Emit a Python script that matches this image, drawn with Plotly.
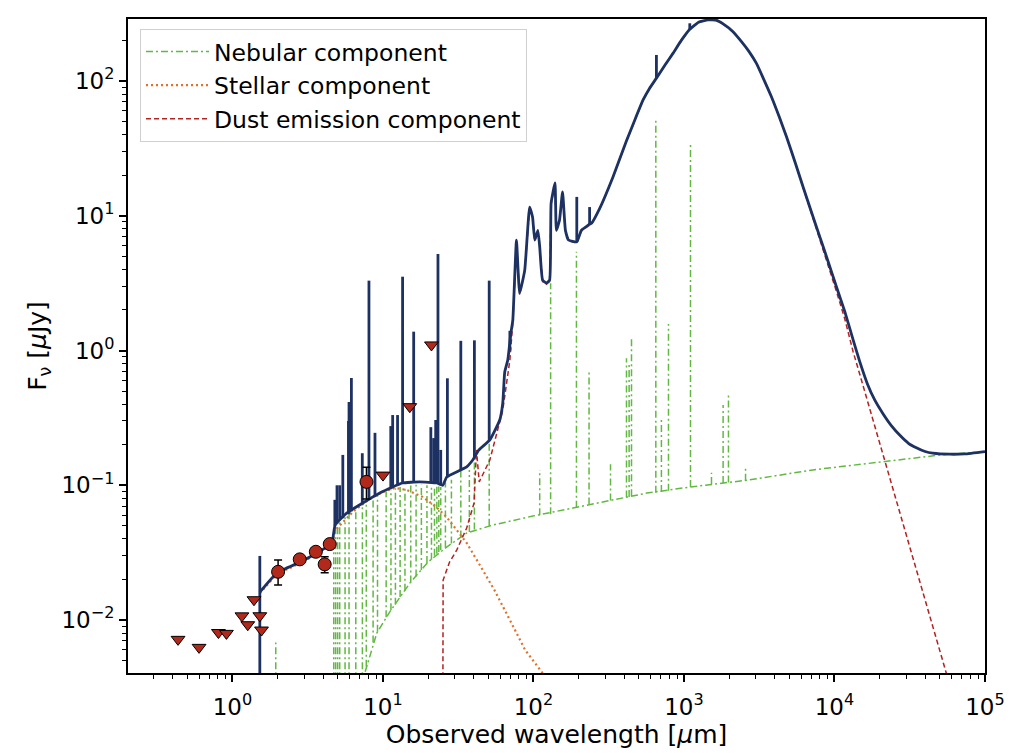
import plotly.graph_objects as go

# ---------------- data ----------------
# Total model continuum (wavelength in micron, flux in microJy)
total_wl = [1.52, 1.97, 2.81, 3.64, 4.57, 4.81, 5.74, 7.34, 9.52, 11.6, 13.5, 17.5, 22.8, 25.0,
            26.5, 36.0, 39.5, 43.4, 51.3, 59.7, 62.5, 64.4, 67.5, 70.8, 72.9, 77.1, 80.9, 87.5,
            94.3, 98.6, 102, 107, 110, 115, 122, 128, 131, 139, 142, 149, 156, 163, 171, 194,
            208, 224, 233, 243, 276, 338, 415, 470, 535, 590, 656, 750, 847, 960, 1093, 1250,
            1446, 1650, 1820, 2100, 2410, 2700, 3030, 3400, 3810, 4300, 4800, 5500, 6180, 7000,
            7980, 9000, 10300, 11700, 13300, 14700, 16500, 18500, 21000, 24000, 27200, 31000,
            35000, 40000, 45000, 58400, 73400, 100000]
total_flux = [0.0161, 0.0223, 0.0269, 0.0314, 0.0373, 0.0507, 0.0622, 0.0738, 0.0875, 0.097,
              0.104, 0.106, 0.104, 0.100, 0.115, 0.137, 0.154, 0.183, 0.217, 0.305, 0.407,
              0.69, 0.85, 1.35, 1.68, 6.6, 2.67, 3.95, 11.6, 9.8, 6.6, 7.8, 5.9, 3.33, 3.17,
              3.33, 12.4, 17.5, 7.8, 9.3, 15.0, 7.8, 6.6, 6.4, 7.8, 8.3, 8.6, 8.8, 11.4, 19.5,
              36.0, 51.0, 72.3, 88.0, 105, 132, 161, 200, 242, 273, 284, 282, 265, 234, 196,
              166, 135, 102, 76.4, 54.0, 38.6, 24.5, 16.4, 10.8, 7.0, 4.7, 2.97, 1.95, 1.20,
              0.83, 0.57, 0.43, 0.34, 0.275, 0.235, 0.205, 0.190, 0.178, 0.173, 0.170, 0.171,
              0.178]
# Emission-line spikes of the total model
total_line_wl = [1.52, 4.79, 4.95, 5.16, 5.41, 5.90, 5.95, 6.17, 7.29, 8.07, 8.85, 11.27, 11.6,
                 12.5, 13.5, 16.0, 20.8, 21.7, 22.4, 23.2, 24.2, 26.8, 32.9, 40.5, 50.8, 69.7,
                 194, 236, 656, 1093]
total_line_base = [0.002, 0.050, 0.052, 0.055, 0.057, 0.061, 0.062, 0.064, 0.073, 0.080, 0.083,
                   0.095, 0.097, 0.100, 0.104, 0.106, 0.105, 0.104, 0.104, 0.104, 0.100, 0.115,
                   0.130, 0.160, 0.215, 1.0, 6.4, 8.6, 105, 242]
total_line_peak = [0.0299, 0.078, 0.100, 0.100, 0.168, 0.30, 0.415, 0.625, 0.173, 3.30, 0.245,
                   0.275, 0.332, 0.332, 3.53, 1.38, 0.27, 0.224, 0.305, 5.2, 0.183, 0.622, 1.18,
                   1.19, 3.30, 1.40, 13.8, 11.6, 156, 268]

# Stellar component
stellar_wl = [1.52, 1.97, 2.81, 3.64, 4.57, 4.81, 6.3, 8.15, 9.95, 12.0, 14.4, 18.4, 22.6, 26.5,
              30.9, 36.0, 44.0, 55.0, 69.7, 88.0, 122.0]
stellar_flux = [0.0158, 0.0219, 0.0264, 0.0308, 0.0360, 0.0463, 0.0634, 0.079, 0.089, 0.0955,
                0.0923, 0.0819, 0.069, 0.058, 0.0466, 0.0373, 0.0256, 0.0167, 0.0100, 0.0060,
                0.0037]

# Dust emission component
dust_wl = [25.0, 25.1, 27.7, 30.9, 36.0, 40.3, 41.8, 43.6, 51.3, 62.5, 69.7, 72.9, 77.1, 80.9,
           87.5, 94.3, 98.6, 102, 107, 110, 115, 122, 128, 131, 139, 142, 149, 156, 163, 171,
           194, 208, 224, 243, 276, 338, 415, 470, 535, 590, 656, 750, 847, 960, 1093, 1250,
           1446, 1650, 1820, 2100, 2410, 2700, 3030, 3400, 3810, 4300, 4800, 5500, 6180, 7000,
           7980, 9000, 10300, 11700, 13300, 15100, 28900, 54800, 62000]
dust_flux = [0.0025, 0.0198, 0.0269, 0.033, 0.0482, 0.0738, 0.183, 0.106, 0.154, 0.361, 0.85,
             1.6, 6.5, 2.6, 3.9, 11.5, 9.7, 6.5, 7.7, 5.8, 3.25, 3.1, 3.25, 12.2, 17.3, 7.7,
             9.2, 14.8, 7.7, 6.5, 6.3, 7.7, 8.2, 8.7, 11.3, 19.4, 35.9, 50.9, 72.2, 87.9, 104.9,
             131.9, 160.9, 199.9, 241.9, 272.9, 283.9, 281.9, 264.9, 233.9, 195.9, 165.9, 134.9,
             101.9, 76.3, 53.9, 38.5, 24.4, 16.3, 10.7, 6.85, 4.55, 2.75, 1.72, 0.98, 0.604,
             0.0493, 0.00426, 0.0026]

# Nebular component: continuum and emission lines
nebular_wl = [7.0, 7.34, 9.1, 11.1, 15.1, 19.9, 26.5, 36.1, 53.7, 99, 183, 337, 566, 1094, 2620,
              7180, 20000, 55800, 100000]
nebular_flux = [0.0025, 0.0036, 0.0080, 0.0115, 0.0188, 0.0269, 0.0348, 0.0443, 0.0507, 0.0591,
                0.0678, 0.0778, 0.0875, 0.097, 0.109, 0.130, 0.149, 0.170, 0.176]
nebular_line_wl = [1.94, 4.71, 4.85, 5.0, 5.16, 5.6, 5.95, 6.6, 7.3, 7.75, 8.6, 9.2, 10.5, 11.3,
                   12.1, 13.0, 14.0, 15.3, 16.6, 18.0, 19.6, 21.0, 22.0, 22.8, 23.5, 24.2, 26.0,
                   28.5, 32.9, 37.5, 40.5, 50.8,
                   110, 130, 193, 234, 325, 415, 432, 448, 650, 708, 789, 1105, 1523, 1820,
                   1975, 2565]
nebular_line_base = [0.002, 0.002, 0.002, 0.002, 0.002, 0.002, 0.002, 0.002, 0.002, 0.0045,
                     0.0068, 0.0082, 0.0105, 0.0118, 0.013, 0.0148, 0.0165, 0.019, 0.021,
                     0.0235, 0.0265, 0.028, 0.030, 0.031, 0.032, 0.033, 0.0345, 0.037, 0.041,
                     0.045, 0.047, 0.050,
                     0.060, 0.061, 0.068, 0.072, 0.077, 0.081, 0.082, 0.083, 0.088, 0.089,
                     0.091, 0.097, 0.102, 0.104, 0.105, 0.108]
nebular_line_peak = [0.0068, 0.042, 0.049, 0.052, 0.054, 0.058, 0.062, 0.067, 0.072, 0.075,
                     0.081, 0.085, 0.090, 0.093, 0.095, 0.097, 0.099, 0.100, 0.101, 0.101,
                     0.100, 0.099, 0.099, 0.099, 0.098, 0.097, 0.105, 0.11, 1.1, 0.13, 1.1, 3.1,
                     0.13, 3.15, 5.41, 0.697, 0.143, 0.875, 0.804, 1.21, 50.7, 0.317, 1.57,
                     34.5, 0.124, 0.394, 0.481, 0.134]

# Observed photometry
upper_wl = [0.435, 0.600, 0.807, 0.912, 1.156, 1.264, 1.39, 1.52, 1.56, 10.0, 15.07, 21.0]
upper_flux = [0.00719, 0.00627, 0.00808, 0.00796, 0.01074, 0.00923, 0.01415, 0.01076, 0.00843,
              0.119, 0.383, 1.10]
det_wl = [2.01, 2.80, 3.58, 4.10, 4.43, 7.77]
det_flux = [0.0228, 0.0282, 0.0321, 0.0259, 0.0366, 0.106]
det_err_minus = [0.0046, 0.0012, 0.0012, 0.0035, 0.0012, 0.027]
det_err_plus = [0.0051, 0.0012, 0.0012, 0.0036, 0.0012, 0.030]

x_tick_vals = [1, 10, 100, 1000, 10000, 100000]
x_tick_text = ["10<sup>0</sup>", "10<sup>1</sup>", "10<sup>2</sup>", "10<sup>3</sup>",
               "10<sup>4</sup>", "10<sup>5</sup>"]
y_tick_vals = [0.01, 0.1, 1, 10, 100]
y_tick_text = ["10<sup>\u22122</sup>", "10<sup>\u22121</sup>", "10<sup>0</sup>",
               "10<sup>1</sup>", "10<sup>2</sup>"]

# ---------------- styles ----------------
NAVY = "#1d3262"
GREEN = "#62b843"
ORANGE = "#e0702a"
DUSTRED = "#b22222"
MARKRED = "#b2281a"
FONT = "DejaVu Sans"


def with_lines(cx, cy, lx, lb, lp):
    xs, ys = list(cx), list(cy)
    for w, b, p in zip(lx, lb, lp):
        xs += [None, w, w]
        ys += [None, b, p]
    return xs, ys


fig = go.Figure()

nx, ny = with_lines(nebular_wl, nebular_flux, nebular_line_wl, nebular_line_base, nebular_line_peak)
fig.add_trace(go.Scatter(x=nx, y=ny, mode="lines", name="Nebular component",
                         line=dict(color=GREEN, width=1.5, dash="7px,3px,2px,3px"),
                         legendgroup="a", connectgaps=False))
fig.add_trace(go.Scatter(x=stellar_wl, y=stellar_flux, mode="lines", name="Stellar component",
                         line=dict(color=ORANGE, width=2.2, dash="2px,3px"), legendgroup="b"))
fig.add_trace(go.Scatter(x=dust_wl, y=dust_flux, mode="lines", name="Dust emission component",
                         line=dict(color=DUSTRED, width=1.5, dash="5px,3px"), legendgroup="c"))

tx, ty = with_lines(total_wl, total_flux, total_line_wl, total_line_base, total_line_peak)
fig.add_trace(go.Scatter(x=tx, y=ty, mode="lines", showlegend=False,
                         line=dict(color=NAVY, width=2.8, shape="spline", smoothing=0.4),
                         connectgaps=False))

fig.add_trace(go.Scatter(x=upper_wl, y=upper_flux, mode="markers", showlegend=False,
                         marker=dict(symbol="triangle-down", size=12, color=MARKRED,
                                     line=dict(color="black", width=1))))
fig.add_trace(go.Scatter(x=det_wl, y=det_flux, mode="markers", showlegend=False,
                         error_y=dict(type="data", symmetric=False, array=det_err_plus,
                                      arrayminus=det_err_minus, color="black", thickness=1.5,
                                      width=4),
                         marker=dict(symbol="circle", size=13, color=MARKRED,
                                     line=dict(color="black", width=1))))

axis_common = dict(type="log", showgrid=False, zeroline=False, showline=True, mirror=True,
                   linecolor="black", linewidth=1.8, ticks="outside", ticklen=7, tickwidth=1.5,
                   tickcolor="black", automargin=False,
                   tickfont=dict(family=FONT, size=23, color="black"),
                   minor=dict(ticks="outside", ticklen=4, tickwidth=1, tickcolor="black",
                              dtick="D1", showgrid=False))

fig.update_layout(
    width=1024, height=753,
    margin=dict(l=128, r=39, t=19, b=80),
    paper_bgcolor="white", plot_bgcolor="white",
    font=dict(family=FONT, color="black"),
    xaxis=dict(axis_common, range=[-0.694, 5], tickvals=x_tick_vals, ticktext=x_tick_text,
               ticklabelstandoff=5,
               title=dict(text="Observed wavelength [<i>\u03bc</i>m]",
                          font=dict(family=FONT, size=25), standoff=7)),
    yaxis=dict(axis_common, range=[-2.393, 2.460], tickvals=y_tick_vals, ticktext=y_tick_text,
               title=dict(text="F<sub>\u03bd</sub> [<i>\u03bc</i>Jy]",
                          font=dict(family=FONT, size=25), standoff=8)),
    legend=dict(x=0.014, y=0.985, xanchor="left", yanchor="top",
                bgcolor="rgba(255,255,255,0.85)", bordercolor="#d0d0d0", borderwidth=1,
                font=dict(family=FONT, size=23.5), tracegroupgap=6, traceorder="normal",
                itemwidth=63),
)

fig.write_html("out.html")
